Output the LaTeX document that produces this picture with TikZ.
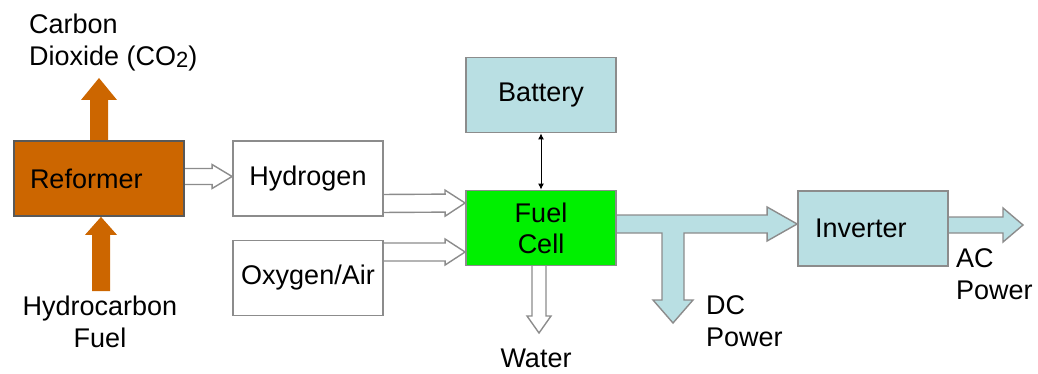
\documentclass[tikz,border=0pt]{standalone}
\usepackage{fontspec}
\setmainfont{Liberation Sans}
\usepackage{xcolor}
\usetikzlibrary{arrows.meta,positioning,calc,backgrounds}

\definecolor{reforange}{HTML}{CC6600}
\definecolor{cellgreen}{HTML}{00F000}
\definecolor{paleblue}{HTML}{B9DFE3}
\definecolor{edgegray}{HTML}{8C8C8C}

% block arrow: style, start, tip, half shaft, half head, head length
\newcommand{\blockarrow}[6]{%
  \path (#2) coordinate (ba-s) (#3) coordinate (ba-t)
    ($(ba-t)!#6!(ba-s)$) coordinate (ba-h);
  \draw[#1] ($(ba-s)!#4!90:(ba-t)$) -- ($(ba-h)!#4!90:(ba-t)$)
    -- ($(ba-h)!#5!90:(ba-t)$) -- (ba-t) -- ($(ba-h)!#5!-90:(ba-t)$)
    -- ($(ba-h)!#4!-90:(ba-t)$) -- ($(ba-s)!#4!-90:(ba-t)$) -- cycle;}

\begin{document}
\begin{tikzpicture}[x=1pt,y=-1pt,
  font=\fontsize{27}{32}\selectfont,
  box/.style={draw=edgegray,line width=1.8pt,fill=white,minimum width=150pt,minimum height=75pt,inner sep=0pt},
  hollow/.style={draw=edgegray,line width=1.4pt,fill=white,line join=miter},
  orangearrow/.style={fill=reforange,draw=none},
  bluearrow/.style={draw=edgegray,line width=1.4pt,fill=paleblue,line join=miter}]
\useasboundingbox (0,0) rectangle (1038,374);

% blocks
\node[box,fill=reforange,draw=gray!70!black,minimum width=170pt,text width=138pt,align=left] (ref) at (99,178.5) {Reformer};
\node[box] (hyd) at (308,178.5) {Hydrogen};
\node[box] (oxy) at (308,278) {Oxygen/Air};
\node[box,fill=paleblue] (bat) at (541,95) {Battery};
\node[box,fill=cellgreen,align=center,font=\fontsize{27}{31}\selectfont] (fc) at (541,228) {Fuel\\Cell};
\node[box,fill=paleblue,text width=116pt,align=left] (inv) at (873,228.5) {Inverter};

% free ends
\coordinate (co2tip) at (99,78);
\coordinate (hcs) at (101,291);
\coordinate (wtip) at (539,333);
\coordinate (actip) at (1023,225);
\coordinate (dctip) at (673,323);

\begin{scope}[on background layer]
% reformer in and out
\blockarrow{orangearrow}{ref.north}{co2tip}{9pt}{18pt}{22pt}
\blockarrow{orangearrow}{hcs}{ref.south -| hcs}{9pt}{16pt}{18pt}

% gases
\blockarrow{hollow}{$(ref.east)+(-3,-2)$}{$(hyd.west)+(0,-2)$}{8pt}{12pt}{20pt}
\blockarrow{hollow}{$(hyd.east)+(-3,25)$}{$(fc.west)+(0,-25)$}{9pt}{13pt}{20pt}
\blockarrow{hollow}{$(oxy.east)+(-3,-26)$}{$(fc.west)+(0,24)$}{9pt}{13pt}{20pt}
\blockarrow{hollow}{$(fc.south)+(-2,-3)$}{wtip}{7pt}{12pt}{17pt}

% DC power with branch
\coordinate (dcs) at ($(fc.east)+(-3,-4)$);
\draw[bluearrow] let \p1=(dcs), \p2=(inv.west |- dcs), \p3=(dctip) in
  (\x1,\y1+9pt) -- (\x2-30pt,\y1+9pt) -- (\x2-30pt,\y1+17pt) -- (\x2,\y1)
  -- (\x2-30pt,\y1-17pt) -- (\x2-30pt,\y1-9pt) -- (\x3+11pt,\y1-9pt)
  -- (\x3+11pt,\y3+23pt) -- (\x3+20pt,\y3+23pt) -- (\x3,\y3)
  -- (\x3-20pt,\y3+23pt) -- (\x3-11pt,\y3+23pt) -- (\x3-11pt,\y1-9pt)
  -- (\x1,\y1-9pt) -- cycle;

% AC power
\blockarrow{bluearrow}{$(inv.east)+(-3,-3.5)$}{actip}{8pt}{17pt}{20pt}
\end{scope}

% battery link
\draw[{Latex[length=6pt,width=6pt]}-{Latex[length=6pt,width=6pt]},line width=1pt] (bat.south) -- (fc.north);

% labels
\node[anchor=west,align=left,inner sep=0pt] (co2) at (29,43) {Carbon\\Dioxide (CO{\fontsize{22}{22}\selectfont\raisebox{-2pt}{2}})};
\node[align=center,inner sep=0pt] (hcf) at (100,322) {Hydrocarbon\\Fuel};
\node[inner sep=0pt] (water) at (536,358) {Water};
\node[anchor=west,align=left,inner sep=0pt] (dc) at (706,321) {DC\\Power};
\node[anchor=west,align=left,inner sep=0pt] (ac) at (956,274) {AC\\Power};
\end{tikzpicture}
\end{document}
